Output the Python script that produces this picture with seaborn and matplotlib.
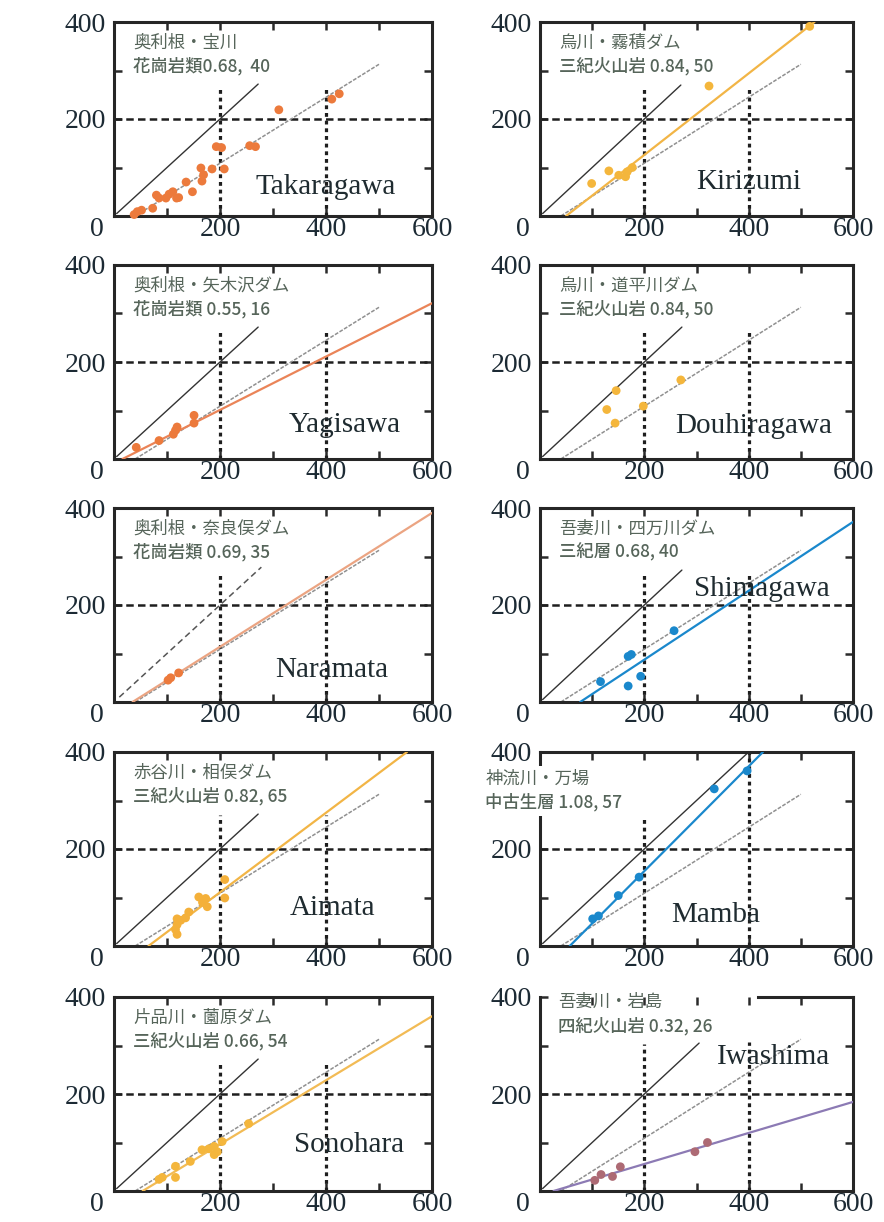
import numpy as np
import pandas as pd
import matplotlib
matplotlib.use("Agg")
import matplotlib.pyplot as plt
import seaborn as sns

# ---------------- data ----------------
names = ["Takaragawa", "Kirizumi", "Yagisawa", "Douhiragawa", "Naramata",
         "Shimagawa", "Aimata", "Mamba", "Sonohara", "Iwashima"]
site_labels = ["奥利根・宝川", "烏川・霧積ダム", "奥利根・矢木沢ダム", "烏川・道平川ダム",
               "奥利根・奈良俣ダム", "吾妻川・四万川ダム", "赤谷川・相俣ダム", "神流川・万場",
               "片品川・薗原ダム", "吾妻川・岩島"]
geo_labels = ["花崗岩類0.68,  40", "三紀火山岩 0.84, 50", "花崗岩類 0.55, 16",
              "三紀火山岩 0.84, 50", "花崗岩類 0.69, 35", "三紀層 0.68, 40",
              "三紀火山岩 0.82, 65", "中古生層 1.08, 57", "三紀火山岩 0.66, 54",
              "四紀火山岩 0.32, 26"]

takaragawa_x = [38, 44, 52, 73, 80, 85, 98, 104, 111, 118, 122, 136, 148, 164, 166, 169,
                185, 193, 203, 208, 256, 267, 311, 411, 425]
takaragawa_y = [3, 9, 12, 16, 43, 37, 37, 45, 50, 37, 38, 70, 50, 99, 72, 85,
                97, 143, 141, 97, 145, 143, 219, 241, 252]
kirizumi_x = [99, 132, 151, 164, 167, 177, 324, 517]
kirizumi_y = [67, 93, 84, 81, 91, 100, 268, 391]
yagisawa_x = [42, 85, 112, 116, 119, 151, 151]
yagisawa_y = [24, 38, 51, 59, 66, 74, 90]
douhiragawa_x = [146, 128, 144, 198, 270]
douhiragawa_y = [141, 102, 74, 109, 163]
naramata_x = [102, 107, 122]
naramata_y = [45, 50, 60]
shimagawa_x = [116, 169, 169, 175, 193, 257]
shimagawa_y = [42, 33, 94, 98, 53, 147]
aimata_x = [119, 116, 119, 119, 126, 135, 141, 160, 167, 173, 176, 209, 209]
aimata_y = [24, 34, 44, 56, 53, 58, 70, 101, 90, 98, 81, 137, 99]
mamba_x = [101, 112, 150, 190, 334, 397]
mamba_y = [56, 62, 104, 142, 324, 361]
sonohara_x = [85, 91, 116, 116, 144, 166, 179, 189, 189, 195, 204, 254]
sonohara_y = [24, 28, 51, 28, 61, 85, 87, 75, 92, 81, 102, 139]
iwashima_x = [105, 117, 139, 154, 297, 321]
iwashima_y = [22, 34, 30, 50, 81, 100]

points_x = [takaragawa_x, kirizumi_x, yagisawa_x, douhiragawa_x, naramata_x,
            shimagawa_x, aimata_x, mamba_x, sonohara_x, iwashima_x]
points_y = [takaragawa_y, kirizumi_y, yagisawa_y, douhiragawa_y, naramata_y,
            shimagawa_y, aimata_y, mamba_y, sonohara_y, iwashima_y]

# fitted line  y = slope * (x - x0)   (None = not drawn)
fit_slope = [None, 0.84, 0.55, None, 0.69, 0.71, 0.82, 1.08, 0.66, 0.32]
fit_x0 = [None, 50, 16, None, 35, 77, 65, 57, 54, 26]
# reference line (Takaragawa fit) drawn in grey in every panel
ref_slope, ref_x0, ref_x_end = 0.68, 40, 500
# 1:1 line end
one_end = [272, 270, 272, 272, 278, 272, 272, 400, 272, 305]
vline_top = [(265, 265), (268, 268), (265, 265), (268, 268), (265, 265),
             (268, 268), (270, 270), (262, 400), (268, 268), (303, 307)]

point_colors = ["#ec7a3c", "#f4b63c", "#ec7a3c", "#f4b63c", "#ec7a3c",
                "#1a88cc", "#f4b03a", "#1a88cc", "#f4b63c", "#ad6a74"]
line_colors = [None, "#f2b546", "#ea8458", None, "#eba482",
               "#1a88cc", "#f2b546", "#1a88cc", "#f2bb55", "#8c7ab4"]

name_x = [400, 400, 435, 410, 411, 426, 413, 336, 443, 448]
name_y = [60, 70, 71, 68, 65, 232, 79, 64, 95, 276]

xticks = [0, 100, 200, 300, 400, 500, 600]
xticklabels = ["", "", "200", "", "400", "", "600"]
yticks = [0, 100, 200, 300, 400]
yticklabels = ["", "", "200", "", "400"]

# ---------------- figure ----------------
sns.set_theme(style="ticks")
plt.rcParams["font.family"] = ["Noto Sans CJK JP", "DejaVu Sans"]

W, H = 884, 1222
fig = plt.figure(figsize=(W / 100, H / 100), dpi=100)

col_left = [114, 540]
col_width = [318, 313]
row_top = [22, 265, 508, 752, 997]
ax_h = 194

SERIF = "Liberation Serif"
TICK_COLOR = "#1c2a34"
JP_COLOR = "#56655a"

for i in range(10):
    r, c = divmod(i, 2)
    l = col_left[c]
    w = col_width[c]
    t = row_top[r]
    ax = fig.add_axes([l / W, 1 - (t + ax_h) / H, w / W, ax_h / H])
    ax.set_xlim(0, 600)
    ax.set_ylim(0, 400)

    # grid helper lines
    ax.axhline(200, color="#1e1e1e", lw=1.8, ls=(0, (3.0, 1.7)), zorder=1)
    for vx, vt in zip([200, 400], vline_top[i]):
        ax.plot([vx, vx], [0, vt], color="#1e1e1e", lw=2.3, ls=(0, (1.2, 1.2)), zorder=1)

    # 1:1 line
    if names[i] == "Naramata":
        ax.plot([10, one_end[i]], [10, one_end[i]], color="#555555", lw=1.1,
                ls=(0, (4, 2.5)), zorder=2)
    else:
        ax.plot([5, one_end[i]], [5, one_end[i]], color="#333333", lw=1.0, zorder=2)

    # reference line
    rx = np.array([ref_x0, ref_x_end])
    ax.plot(rx, ref_slope * (rx - ref_x0), color="#909090", lw=1.1,
            ls=(0, (2.5, 1)), zorder=2)

    # fitted line
    if fit_slope[i] is not None:
        x_end = min(600, fit_x0[i] + 400 / fit_slope[i])
        fx = np.array([fit_x0[i], x_end])
        fy = fit_slope[i] * (fx - fit_x0[i])
        sns.lineplot(x=fx, y=fy, ax=ax, color=line_colors[i], lw=1.6,
                     estimator=None, sort=False, zorder=3)

    # points
    df = pd.DataFrame({"x": points_x[i], "y": points_y[i]})
    sns.scatterplot(data=df, x="x", y="y", ax=ax, color=point_colors[i], s=40,
                    edgecolor="none", zorder=4, clip_on=False)

    ax.set_xlabel("")
    ax.set_ylabel("")
    ax.set_xticks(xticks)
    ax.set_xticklabels(xticklabels)
    ax.set_yticks(yticks)
    ax.set_yticklabels(yticklabels)
    ax.tick_params(direction="in", length=6, width=1.8, top=True, right=True,
                   colors="#2a2a2a", labelcolor=TICK_COLOR, labelsize=20)
    ax.tick_params(axis="x", pad=1)
    ax.tick_params(axis="y", pad=6)
    for lab in ax.get_xticklabels() + ax.get_yticklabels():
        lab.set_fontfamily(SERIF)
    for sp in ax.spines.values():
        sp.set_linewidth(2.2)
        sp.set_color("#262626")
        sp.set_visible(True)
        sp.set_zorder(2.5)

    # x "0" label, offset to the left of the corner
    ax.annotate("0", xy=(0, 0), xycoords="axes fraction", xytext=(-12, -1),
                textcoords="offset points", ha="center", va="top",
                fontsize=20, fontfamily=SERIF, color=TICK_COLOR)

    # station name
    ax.text(name_x[i], name_y[i], names[i], ha="center", va="center",
            fontsize=21, fontfamily=SERIF, color="#1f2b30", zorder=5)

    # Japanese labels
    if names[i] == "Mamba":
        tx, ty1, ty2 = -0.175, 0.862, 0.74
        bbox = dict(facecolor="white", edgecolor="none", pad=3)
    elif names[i] == "Iwashima":
        tx, ty1, ty2 = 0.058, 0.974, 0.85
        bbox = None
        ax.spines["top"].set_bounds(417, 600)
    else:
        tx, ty1, ty2 = 0.06, 0.893, 0.773
        bbox = None
    ax.text(tx, ty1, site_labels[i], transform=ax.transAxes, ha="left", va="center",
            fontsize=12.5, color=JP_COLOR, bbox=bbox, zorder=6, clip_on=False)
    ax.text(tx, ty2, geo_labels[i], transform=ax.transAxes, ha="left", va="center",
            fontsize=12.5, color=JP_COLOR, bbox=bbox, zorder=6, clip_on=False,
            fontweight="medium")

fig.savefig("out.png", dpi=100)
